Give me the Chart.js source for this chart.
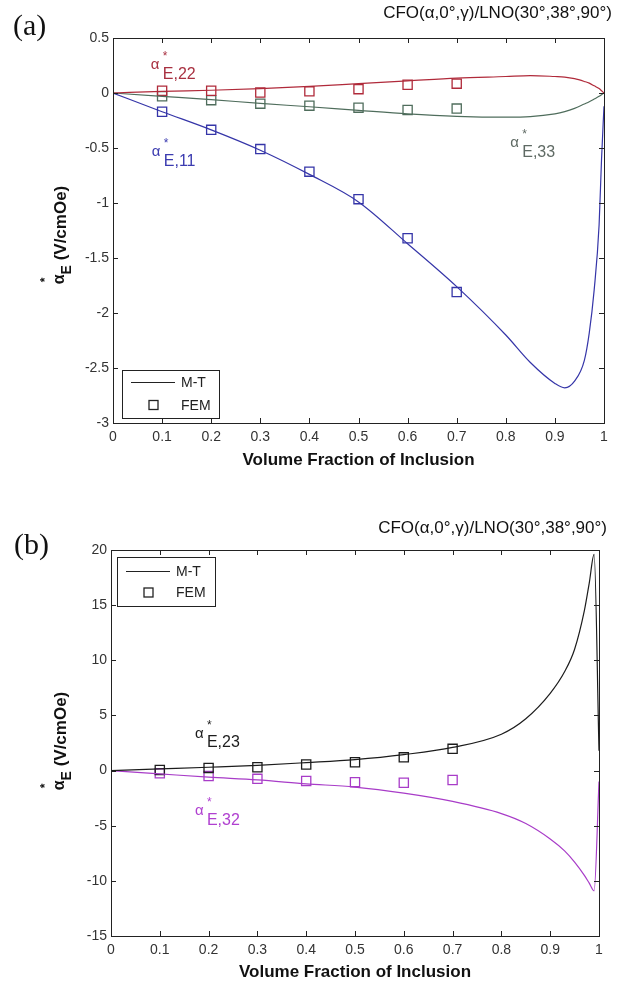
<!DOCTYPE html>
<html>
<head>
<meta charset="utf-8">
<script src="https://cdn.jsdelivr.net/npm/chart.js@4.4.0/dist/chart.umd.min.js"></script>
<style>
  body { margin: 0; background: #fff; width: 630px; height: 985px; overflow: hidden; font-family: "Liberation Sans", Arial, sans-serif; }
  .panel { position: absolute; left: 0; width: 630px; }
  #pa { top: 0; height: 480px; }
  #pb { top: 480px; height: 505px; }
  .tag { position: absolute; font-family: "Liberation Serif", "Times New Roman", serif; font-size: 30px; color: #111; line-height: 1; }
  .ttl { position: absolute; font-size: 17px; color: #111; line-height: 20px; white-space: nowrap; }
</style>
</head>
<body>
<div class="panel" id="pa"><canvas id="chartA" width="630" height="480"></canvas></div>
<div class="panel" id="pb"><canvas id="chartB" width="630" height="505"></canvas></div>
<div class="tag" style="left:13px; top:10px;">(a)</div>
<div class="tag" style="left:14px; top:529px;">(b)</div>
<div class="ttl" style="right:18px; top:3px;">CFO(α,0°,γ)/LNO(30°,38°,90°)</div>
<div class="ttl" style="right:23px; top:518px;">CFO(α,0°,γ)/LNO(30°,38°,90°)</div>
<script>
// ---- data ----
const xTicks = [0, 0.1, 0.2, 0.3, 0.4, 0.5, 0.6, 0.7, 0.8, 0.9, 1];
const yTicksA = [-3, -2.5, -2, -1.5, -1, -0.5, 0, 0.5];
const yTicksB = [-15, -10, -5, 0, 5, 10, 15, 20];

// panel (a): M-T curves
const xCurveA  = [0, 0.1, 0.2, 0.3, 0.4, 0.5, 0.6, 0.7, 0.8, 0.85, 0.9, 0.92, 0.94, 0.96, 0.97, 0.98, 0.99, 0.995, 1];
const e22CurveA = [0, 0.015, 0.025, 0.04, 0.06, 0.085, 0.11, 0.135, 0.15, 0.158, 0.15, 0.145, 0.13, 0.105, 0.09, 0.065, 0.04, 0.02, 0];
const e33CurveA = [0, -0.03, -0.06, -0.095, -0.125, -0.158, -0.19, -0.212, -0.22, -0.215, -0.19, -0.17, -0.14, -0.1, -0.08, -0.055, -0.03, -0.015, 0];
const e11CurveA = [0, -0.17, -0.335, -0.52, -0.74, -0.99, -1.37, -1.76, -2.2, -2.45, -2.64, -2.68, -2.62, -2.43, -2.18, -1.79, -1.2, -0.6, -0.12];

// FEM points
const xFem = [0.1, 0.2, 0.3, 0.4, 0.5, 0.6, 0.7];
const e22FemA = [0.02, 0.02, 0.005, 0.015, 0.035, 0.075, 0.085];
const e33FemA = [-0.03, -0.065, -0.097, -0.115, -0.133, -0.155, -0.142];
const e11FemA = [-0.17, -0.335, -0.51, -0.715, -0.965, -1.32, -1.81];

// panel (b): M-T curves
const xCurveB  = [0, 0.1, 0.2, 0.3, 0.4, 0.5, 0.6, 0.7, 0.8, 0.85, 0.9, 0.93, 0.95, 0.97, 0.98, 0.99, 1];
const e23CurveB = [0, 0.15, 0.3, 0.47, 0.72, 1.0, 1.45, 2.1, 3.3, 4.7, 7.0, 9.0, 11.0, 14.5, 17.0, 19.6, 1.8];
const e32CurveB = [0, -0.3, -0.6, -0.85, -1.2, -1.5, -2.05, -2.8, -3.9, -4.8, -6.2, -7.3, -8.3, -9.5, -10.2, -10.9, -1.0];
const e23FemB = [0.06, 0.24, 0.3, 0.55, 0.76, 1.2, 1.97];
const e32FemB = [-0.25, -0.5, -0.75, -0.95, -1.05, -1.1, -0.85];

const FONT = '"Liberation Sans", Arial, sans-serif';
const RED = '#b02a3a', GREEN = '#4f6d5c', BLUE = '#3535a8', BLACK = '#1c1c1c', MAG = '#a83cc8';

function pts(xs, ys) { return xs.map((x, i) => ({ x: x, y: ys[i] })); }

function curve(xs, ys, color) {
  return { data: pts(xs, ys), showLine: true, borderColor: color, borderWidth: 1.2,
           pointRadius: 0, cubicInterpolationMode: 'monotone', fill: false };
}
function fem(ys, color) {
  return { data: pts(xFem, ys), showLine: false, pointStyle: 'rect', pointRadius: 6.5,
           borderColor: color, backgroundColor: 'rgba(0,0,0,0)', pointBorderWidth: 1.3 };
}

// draws alpha with * above and a subscript
function drawAlpha(ctx, px, py, sub, color) {
  ctx.fillStyle = color;
  ctx.textAlign = 'left';
  ctx.textBaseline = 'middle';
  ctx.font = '15px ' + FONT;
  ctx.fillText('α', px, py);
  ctx.font = '16px ' + FONT;
  ctx.fillText(sub, px + 12, py + 9.5);
  ctx.textBaseline = 'alphabetic';
  ctx.font = '12px ' + FONT;
  ctx.fillText('*', px + 12, py - 5);
}

const decor = {
  id: 'decor',
  afterDraw(chart) {
    const o = chart.options.plugins.decor;
    const { ctx, chartArea: a, scales: { x, y } } = chart;
    ctx.save();
    // frame + inward ticks
    ctx.strokeStyle = '#222';
    ctx.lineWidth = 1;
    ctx.strokeRect(a.left + 0.5, a.top + 0.5, a.right - a.left, a.bottom - a.top);
    ctx.beginPath();
    x.ticks.forEach(t => {
      const px = Math.round(x.getPixelForValue(t.value)) + 0.5;
      ctx.moveTo(px, a.bottom); ctx.lineTo(px, a.bottom - 5);
      ctx.moveTo(px, a.top); ctx.lineTo(px, a.top + 5);
    });
    y.ticks.forEach(t => {
      const py = Math.round(y.getPixelForValue(t.value)) + 0.5;
      ctx.moveTo(a.left, py); ctx.lineTo(a.left + 5, py);
      ctx.moveTo(a.right, py); ctx.lineTo(a.right - 5, py);
    });
    ctx.stroke();

    // curve labels
    o.labels.forEach(l => drawAlpha(ctx, x.getPixelForValue(l.x), y.getPixelForValue(l.y), l.sub, l.color));

    // legend box
    const L = o.legend;
    ctx.fillStyle = '#fff';
    ctx.fillRect(L.x, L.y, L.w, L.h);
    ctx.strokeStyle = '#222';
    ctx.strokeRect(L.x + 0.5, L.y + 0.5, L.w, L.h);
    ctx.beginPath();
    ctx.moveTo(L.x + 9, L.y + L.l1); ctx.lineTo(L.x + 53, L.y + L.l1);
    ctx.lineWidth = 1.2; ctx.stroke();
    ctx.lineWidth = 1.3;
    ctx.strokeRect(L.x + 27, L.y + L.l2 - 4.5, 9, 9);
    ctx.fillStyle = '#222';
    ctx.font = '14px ' + FONT;
    ctx.textAlign = 'left'; ctx.textBaseline = 'middle';
    ctx.fillText('M-T', L.x + 59, L.y + L.l1 + 1);
    ctx.fillText('FEM', L.x + 59, L.y + L.l2 + 1);

    // x-axis title
    ctx.fillStyle = '#111';
    ctx.font = 'bold 17px ' + FONT;
    ctx.textAlign = 'center';
    ctx.fillText('Volume Fraction of Inclusion', (a.left + a.right) / 2, o.xTitleY);

    // y-axis title (rotated): α*_E (V/cmOe)
    ctx.translate(66, o.yTitleY);
    ctx.rotate(-Math.PI / 2);
    ctx.textAlign = 'left'; ctx.textBaseline = 'alphabetic';
    ctx.font = 'bold 16px ' + FONT;
    const wA = ctx.measureText('α').width;
    ctx.font = 'bold 14px ' + FONT;
    const wE = ctx.measureText('E').width;
    ctx.font = 'bold 17px ' + FONT;
    const rest = ' (V/cmOe)';
    const wR = ctx.measureText(rest).width;
    let sx = -(wA + wE + wR) / 2;
    ctx.font = 'bold 16px ' + FONT;
    ctx.fillText('α', sx, -2);
    ctx.font = 'bold 12px ' + FONT;
    ctx.fillText('*', sx + 2, -17);
    ctx.font = 'bold 14px ' + FONT;
    ctx.fillText('E', sx + wA, 5);
    ctx.font = 'bold 17px ' + FONT;
    ctx.fillText(rest, sx + wA + wE, 0);
    ctx.restore();
  }
};

function makePanel(id, o) {
  return new Chart(document.getElementById(id), {
    type: 'scatter',
    data: { datasets: o.datasets },
    options: {
      responsive: false,
      animation: false,
      layout: { padding: { top: o.padTop, right: o.padRight, left: 0, bottom: 0 } },
      plugins: { legend: { display: false }, tooltip: { enabled: false }, decor: o.decor },
      scales: {
        x: {
          type: 'linear', min: 0, max: 1,
          afterBuildTicks: s => { s.ticks = xTicks.map(v => ({ value: v })); },
          afterFit: s => { s.height = o.xH; },
          grid: { display: false, drawTicks: false },
          border: { display: false },
          ticks: { padding: 6, color: '#333', autoSkip: false, maxRotation: 0,
                   font: { size: 14, family: FONT }, callback: v => String(v) }
        },
        y: {
          type: 'linear', min: o.yTicks[0], max: o.yTicks[o.yTicks.length - 1],
          afterBuildTicks: s => { s.ticks = o.yTicks.map(v => ({ value: v })); },
          afterFit: s => { s.width = o.yW; },
          grid: { display: false, drawTicks: false },
          border: { display: false },
          ticks: { padding: 4, color: '#333', autoSkip: false,
                   font: { size: 14, family: FONT }, callback: v => String(v) }
        }
      }
    },
    plugins: [decor]
  });
}

makePanel('chartA', {
  padTop: 38, padRight: 26, xH: 57, yW: 113, yTicks: yTicksA,
  datasets: [
    curve(xCurveA, e22CurveA, RED),
    curve(xCurveA, e33CurveA, GREEN),
    curve(xCurveA, e11CurveA, BLUE),
    fem(e22FemA, RED),
    fem(e33FemA, GREEN),
    fem(e11FemA, BLUE)
  ],
  decor: {
    xTitleY: 460, yTitleY: 235,
    legend: { x: 122, y: 370, w: 97, h: 48, l1: 12.5, l2: 35 },
    labels: [
      { x: 0.077, y: 0.255, sub: 'E,22', color: '#a83040' },
      { x: 0.079, y: -0.534, sub: 'E,11', color: '#3b3bb0' },
      { x: 0.809, y: -0.457, sub: 'E,33', color: '#5f6a64' }
    ]
  }
});

makePanel('chartB', {
  padTop: 70, padRight: 31, xH: 49, yW: 111, yTicks: yTicksB,
  datasets: [
    curve(xCurveB, e23CurveB, BLACK),
    curve(xCurveB, e32CurveB, MAG),
    fem(e23FemB, BLACK),
    fem(e32FemB, MAG)
  ],
  decor: {
    xTitleY: 492, yTitleY: 261,
    legend: { x: 117, y: 77, w: 98, h: 49, l1: 14.5, l2: 35.5 },
    labels: [
      { x: 0.172, y: 3.36, sub: 'E,23', color: '#1c1c1c' },
      { x: 0.172, y: -3.64, sub: 'E,32', color: '#b040d0' }
    ]
  }
});
</script>
</body>
</html>
